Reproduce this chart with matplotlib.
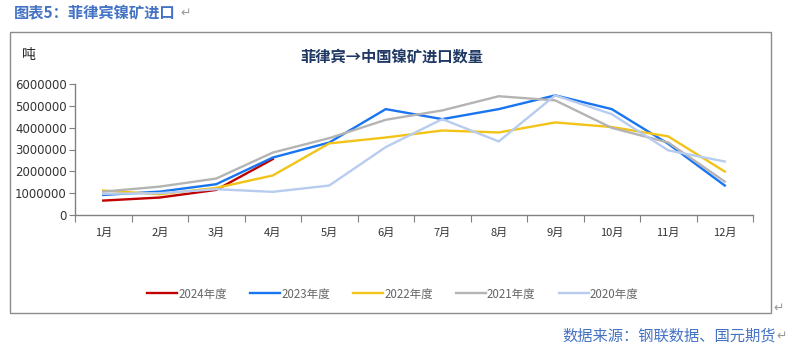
import matplotlib
matplotlib.use("Agg")
import matplotlib.pyplot as plt
from matplotlib.patches import Rectangle

plt.rcParams['font.family'] = ['Noto Sans CJK SC', 'DejaVu Sans']

months = ["1月", "2月", "3月", "4月", "5月", "6月", "7月", "8月", "9月", "10月", "11月", "12月"]
y2024 = [660000, 800000, 1150000, 2560000]
y2023 = [920000, 1070000, 1410000, 2630000, 3320000, 4850000, 4390000, 4850000, 5480000, 4850000, 3260000, 1350000]
y2022 = [1120000, 950000, 1240000, 1810000, 3280000, 3550000, 3870000, 3780000, 4240000, 4030000, 3600000, 1990000]
y2021 = [1070000, 1300000, 1670000, 2860000, 3520000, 4360000, 4790000, 5440000, 5250000, 3990000, 3320000, 1530000]
y2020 = [970000, 1000000, 1180000, 1060000, 1350000, 3110000, 4390000, 3370000, 5480000, 4620000, 2960000, 2450000]

series = [
    ("2024年度", y2024, "#C00000"),
    ("2023年度", y2023, "#1874F0"),
    ("2022年度", y2022, "#F2C318"),
    ("2021年度", y2021, "#B4B4B4"),
    ("2020年度", y2020, "#B8CCF0"),
]

W, H = 787, 345
fig = plt.figure(figsize=(W / 100, H / 100), dpi=100)

# outer chart frame
fig.patches.append(Rectangle((10 / W, (H - 313) / H), 761 / W, 281 / H,
                             transform=fig.transFigure, fill=False,
                             edgecolor="#8C8C8C", linewidth=1.0))

ax = fig.add_axes([75 / W, (H - 215) / H, 678 / W, 131 / H])
x = [i + 0.5 for i in range(len(months))]
for name, vals, color in series:
    ax.plot(x[:len(vals)], vals, color=color, linewidth=1.7, label=name)

ax.set_xlim(0, 12)
ax.set_ylim(0, 6000000)
ax.set_yticks(range(0, 6000001, 1000000))
ax.set_yticklabels([str(v) for v in range(0, 6000001, 1000000)],
                   fontfamily="DejaVu Sans", fontsize=8.5, color="#333333")
ax.set_xticks(range(0, 13))
ax.set_xticklabels([])
ax.set_xticks(x, minor=True)
ax.set_xticklabels(months, minor=True, fontsize=8, color="#333333")
ax.tick_params(axis="x", which="major", length=5, color="#808080", direction="out")
ax.tick_params(axis="x", which="minor", length=0, pad=9)
ax.tick_params(axis="y", length=4, color="#808080", direction="out", pad=2)
for s in ("top", "right"):
    ax.spines[s].set_visible(False)
for s in ("left", "bottom"):
    ax.spines[s].set_color("#808080")
    ax.spines[s].set_linewidth(1.0)

leg = ax.legend(loc="center", bbox_to_anchor=(393 / W, (H - 294) / H),
                bbox_transform=fig.transFigure, ncol=5, frameon=False,
                fontsize=8.3, handlelength=2.6, handletextpad=0.1, columnspacing=2.0)
for t in leg.get_texts():
    t.set_color("#666666")

fig.text(14 / W, (H - 13) / H, "图表5：菲律宾镍矿进口", fontsize=11, fontweight="bold",
         color="#4472C4", va="center", ha="left")
fig.text(180 / W, (H - 13) / H, "↵", fontsize=9, color="#999999", va="center", ha="left",
         fontfamily=["DejaVu Sans"])
fig.text(392 / W, (H - 57) / H, "菲律宾→中国镍矿进口数量", fontsize=11, fontweight="bold",
         color="#1F3864", va="center", ha="center")
fig.text(22 / W, (H - 55) / H, "吨", fontsize=10, color="#222222", va="center", ha="left")
fig.text(776 / W, (H - 336) / H, "数据来源：钢联数据、国元期货", fontsize=11,
         color="#4472C4", va="center", ha="right")
fig.text(776 / W, (H - 336) / H, "↵", fontsize=9, color="#999999", va="center", ha="left",
         fontfamily=["DejaVu Sans"])
fig.text(773 / W, (H - 308) / H, "↵", fontsize=9, color="#999999", va="center", ha="left",
         fontfamily=["DejaVu Sans"])

fig.savefig("out.png", dpi=100)
